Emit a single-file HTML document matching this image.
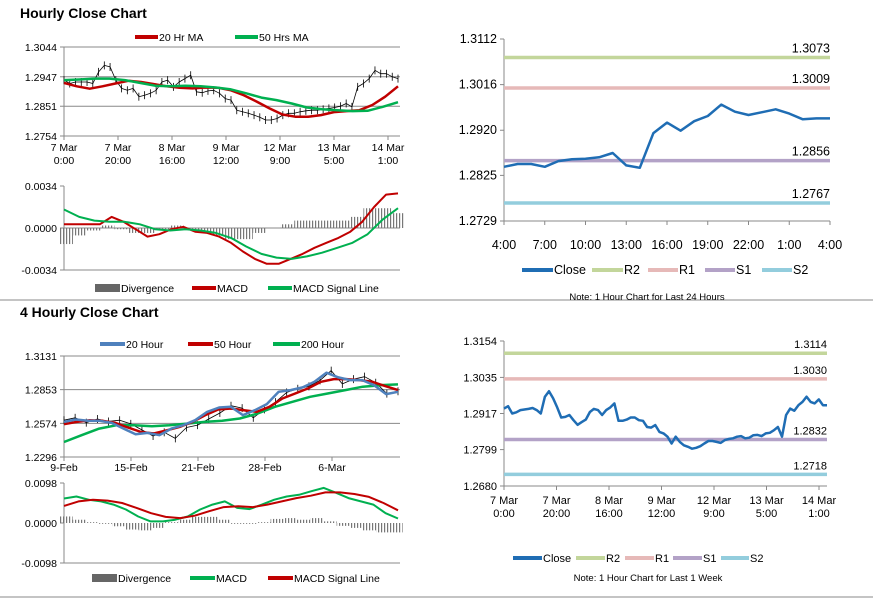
<!DOCTYPE html>
<html><head><meta charset="utf-8"><style>
body{margin:0;background:#fff;width:873px;height:601px;overflow:hidden;font-family:"Liberation Sans",Arial,sans-serif}
svg{display:block}
</style></head><body>
<svg id="s" width="873" height="601" viewBox="0 0 873 601" font-family="Liberation Sans, Arial, sans-serif">
<defs><pattern id="hatch" width="3" height="4" patternUnits="userSpaceOnUse"><rect x="0" y="0" width="1.2" height="4" fill="#777"/></pattern></defs>
<text x="20" y="18" font-size="14" font-weight="bold">Hourly Close Chart</text>
<text x="20" y="317" font-size="14" font-weight="bold">4 Hourly Close Chart</text>
<line x1="0" y1="300" x2="873" y2="300" stroke="#888" stroke-width="1"/>
<line x1="0" y1="597" x2="873" y2="597" stroke="#888" stroke-width="1"/>
</svg>
<script>
// ---- Hourly price (top-left)
const hTicks=["1.3044","1.2947","1.2851","1.2754"];
const hXLabels=[["7 Mar","0:00"],["7 Mar","20:00"],["8 Mar","16:00"],["9 Mar","12:00"],["12 Mar","9:00"],["13 Mar","5:00"],["14 Mar","1:00"]];
const hClose=[1.2936,1.2925,1.2930,1.2930,1.2930,1.2925,1.2963,1.2984,1.2979,1.2936,1.2909,1.2903,1.2909,1.2882,1.2887,1.2893,1.2903,1.2930,1.2936,1.2914,1.2930,1.2941,1.2952,1.2898,1.2895,1.2901,1.2903,1.2893,1.2876,1.2871,1.2838,1.2833,1.2828,1.2822,1.2815,1.2806,1.2806,1.2811,1.2822,1.2828,1.2828,1.2833,1.2836,1.2838,1.2838,1.2841,1.2844,1.2847,1.2851,1.2860,1.2849,1.2914,1.2925,1.2941,1.2968,1.2957,1.2957,1.2947,1.2941];
const hMA20=[1.2927,1.2916,1.2908,1.2916,1.2925,1.2934,1.2930,1.2923,1.2916,1.2911,1.2909,1.2912,1.2911,1.2903,1.2887,1.2866,1.2844,1.2824,1.2817,1.2817,1.2822,1.2832,1.2835,1.2838,1.2855,1.2882,1.2916];
const hMA50=[1.2936,1.2938,1.2941,1.2941,1.2936,1.2927,1.2918,1.2916,1.2918,1.2916,1.2912,1.2906,1.2893,1.2879,1.2871,1.2860,1.2847,1.2841,1.2838,1.2835,1.2836,1.2849,1.2864];
// ---- Hourly MACD
const hmTicks=["0.0034","0.0000","-0.0034"];
const hMACD=[0.0003,0.0003,0.0003,0.0003,0.0009,0.0005,-0.0001,-0.0007,-0.0005,-0.0001,0.0001,-0.0003,-0.0004,-0.0007,-0.0012,-0.0019,-0.0025,-0.0029,-0.0029,-0.0025,-0.0021,-0.0016,-0.0012,-0.0008,-0.0003,0.0005,0.0017,0.0027,0.0028];
const hSignal=[0.0015,0.0009,0.0006,0.0005,0.0005,0.0003,-0.0001,-0.0002,-0.0001,-0.0002,-0.0004,-0.0008,-0.0015,-0.0021,-0.0024,-0.0025,-0.0023,-0.0020,-0.0016,-0.0012,-0.0005,0.0007,0.0016];
const hDiv=[-0.0013,-0.0006,-0.0002,0.0002,-0.0001,-0.0004,-0.0004,-0.0001,0.0002,-0.0001,-0.0004,-0.0006,-0.0009,-0.0009,-0.0004,0.0000,0.0003,0.0006,0.0006,0.0006,0.0006,0.0009,0.0016,0.0016,0.0012];
// ---- 24h chart (top-right)
const dTicks=["1.3112","1.3016","1.2920","1.2825","1.2729"];
const dXLabels=["4:00","7:00","10:00","13:00","16:00","19:00","22:00","1:00","4:00"];
const dClose=[1.2843,1.2849,1.2849,1.2843,1.2855,1.2859,1.2860,1.2863,1.2872,1.2846,1.2841,1.2914,1.2936,1.2919,1.2939,1.2950,1.2974,1.2959,1.2952,1.2958,1.2964,1.2955,1.2943,1.2945,1.2945];
const dLevels=[1.3073,1.3009,1.2856,1.2767];
const levelNames=["R2","R1","S1","S2"];
// ---- week chart (bottom-right)
const wTicks=["1.3154","1.3035","1.2917","1.2799","1.2680"];
const wXLabels=hXLabels;
const wClose=[1.2933,1.2941,1.2917,1.2921,1.2928,1.2930,1.2932,1.2935,1.2928,1.2917,1.2972,1.2990,1.2967,1.2937,1.2904,1.2906,1.2912,1.2895,1.2880,1.2889,1.2897,1.2922,1.2932,1.2928,1.2912,1.2928,1.2937,1.2950,1.2893,1.2893,1.2897,1.2904,1.2904,1.2895,1.2893,1.2873,1.2871,1.2879,1.2857,1.2852,1.2841,1.2819,1.2841,1.2824,1.2813,1.2808,1.2802,1.2805,1.2810,1.2819,1.2827,1.2827,1.2824,1.2821,1.2830,1.2834,1.2836,1.2841,1.2843,1.2836,1.2838,1.2846,1.2847,1.2843,1.2852,1.2854,1.2862,1.2873,1.2841,1.2912,1.2933,1.2926,1.2944,1.2955,1.2972,1.2955,1.2950,1.2963,1.2944,1.2944];
const wLevels=[1.3114,1.3030,1.2832,1.2718];
// ---- 4 hourly price (bottom-left)
const fTicks=["1.3131","1.2853","1.2574","1.2296"];
const fXLabels=["9-Feb","15-Feb","21-Feb","28-Feb","6-Mar"];
const f20=[1.2586,1.2606,1.2595,1.2595,1.2578,1.2531,1.2484,1.2495,1.2476,1.2531,1.2559,1.2600,1.2669,1.2705,1.2711,1.2642,1.2683,1.2733,1.2835,1.2849,1.2871,1.2918,1.2993,1.2954,1.2932,1.2932,1.2890,1.2816,1.2835];
const f50=[1.2567,1.2586,1.2600,1.2595,1.2578,1.2539,1.2503,1.2490,1.2517,1.2545,1.2586,1.2642,1.2689,1.2697,1.2683,1.2669,1.2711,1.2780,1.2821,1.2863,1.2918,1.2940,1.2940,1.2932,1.2918,1.2882,1.2849];
const f200=[1.2420,1.2476,1.2531,1.2559,1.2559,1.2550,1.2559,1.2572,1.2586,1.2595,1.2614,1.2655,1.2711,1.2752,1.2794,1.2821,1.2849,1.2877,1.2890,1.2896];
const fClose=[1.2600,1.2620,1.2580,1.2610,1.2590,1.2600,1.2570,1.2520,1.2470,1.2500,1.2450,1.2540,1.2560,1.2610,1.2660,1.2720,1.2700,1.2620,1.2690,1.2750,1.2830,1.2860,1.2880,1.2930,1.3010,1.2900,1.2940,1.2960,1.2910,1.2820,1.2840];
// ---- 4 hourly MACD
const fmTicks=["0.0098","0.0000","-0.0098"];
const fMACD=[0.0060,0.0065,0.0057,0.0053,0.0045,0.0033,0.0016,0.0004,0.0004,0.0008,0.0016,0.0033,0.0045,0.0053,0.0037,0.0034,0.0045,0.0057,0.0065,0.0069,0.0078,0.0086,0.0074,0.0061,0.0053,0.0045,0.0024,0.0011];
const fSignal=[0.0042,0.0053,0.0057,0.0055,0.0049,0.0037,0.0024,0.0015,0.0012,0.0018,0.0029,0.0039,0.0041,0.0039,0.0045,0.0053,0.0061,0.0067,0.0075,0.0075,0.0071,0.0064,0.0049,0.0031];
const fDiv=[0.0016,0.0008,0.0002,-0.0002,-0.0008,-0.0016,-0.0018,-0.0012,0.0002,0.0008,0.0015,0.0015,0.0008,-0.0002,-0.0002,0.0002,0.0010,0.0012,0.0008,0.0012,0.0004,-0.0007,-0.0012,-0.0018,-0.0023,-0.0023];

const NS="http://www.w3.org/2000/svg";
const svg=document.getElementById('s');
function el(tag,attrs,parent){const e=document.createElementNS(NS,tag);for(const k in attrs)e.setAttribute(k,attrs[k]);(parent||svg).appendChild(e);return e;}
function scale(d0,d1,r0,r1){return v=>r0+(v-d0)/(d1-d0)*(r1-r0);}
function group(name){const g=el('g',{});return g;}
function series(g,name,vals,x0,x1,ys,color,w){
  const xs=scale(0,vals.length-1,x0,x1);
  const p=el('polyline',{points:vals.map((v,i)=>xs(i).toFixed(1)+','+ys(v).toFixed(1)).join(' '),fill:'none',stroke:color,'stroke-width':w,'stroke-linejoin':'round'},g);
  return p;
}
function yAxis(g,ticks,ys,x0,x1,lx,fs,grid){
  ticks.forEach(t=>{const y=ys(parseFloat(t));
    if(grid){const l=el('line',{x1:x0,x2:x1,y1:y,y2:y,stroke:'#888','stroke-width':1},g);}
    const tk=el('line',{x1:x0-4,x2:x0,y1:y,y2:y,stroke:'#888'},g);
    const tx=el('text',{x:lx,y:y+4,'font-size':fs,'text-anchor':'end',fill:'#000'},g);tx.textContent=t;});
}
function xLabels(g,labels,x0,x1,y,fs,tickY){
  const xs=scale(0,labels.length-1,x0,x1);
  labels.forEach((lb,i)=>{const x=xs(i);
    if(tickY!=null){const tk=el('line',{x1:x,x2:x,y1:tickY,y2:tickY+4,stroke:'#888'},g);}
    const arr=Array.isArray(lb)?lb:[lb];
    arr.forEach((s,j)=>{const t=el('text',{x:x,y:y+j*13,'font-size':fs,'text-anchor':'middle'},g);t.textContent=s;});});
}
function legend(g,items,y,fs){
  items.forEach(it=>{const lg=el('g',{},g);
    if(it.bar)el('rect',{x:it.x0,y:y-4,width:it.x1-it.x0,height:8,fill:'#666'},lg);
    else el('line',{x1:it.x0,x2:it.x1,y1:y,y2:y,stroke:it.c,'stroke-width':4},lg);
    const t=el('text',{x:it.x1+1,y:y+4,'font-size':fs},lg);t.textContent=it.t;});
}
function bars(g,vals,x0,x1,ys){
  const xs=scale(0,vals.length-1,x0,x1);const w=(x1-x0)/(vals.length-1);const z=ys(0);
  vals.forEach((v,i)=>{const y=ys(v);const r=el('rect',{x:xs(i)-w/2,y:Math.min(y,z),width:w,height:Math.abs(y-z),fill:'url(#hatch)'},g);
    });
}
function frameLeft(g,x,y0,y1){el('line',{x1:x,x2:x,y1:y0,y2:y1,stroke:'#888'},g);}

// Top-left price
(function(){const g=group('hourly-price-chart');const X0=64,X1=400;const ys=scale(1.2754,1.3044,136,47);
 frameLeft(g,X0,47,136);yAxis(g,hTicks,ys,X0,X1,57,10.5,true);
 xLabels(g,hXLabels,X0,388,151,10.5,136);
 const xs=scale(0,hClose.length-1,X0,398);
 hClose.forEach((v,i)=>{const y=ys(v);const l=el('line',{x1:xs(i),x2:xs(i),y1:y-4,y2:y+4,stroke:'#000','stroke-width':0.8},g);});
 series(g,'close-line',hClose,X0,398,ys,'#000',0.8);
 series(g,'ma20-line',hMA20,X0,398,ys,'#c00000',2.5);
 series(g,'ma50-line',hMA50,X0,398,ys,'#00b050',2.5);
 legend(g,[{x0:135,x1:158,c:'#c00000',t:'20 Hr MA'},{x0:235,x1:258,c:'#00b050',t:'50 Hrs MA'}],37,10.5);
})();
// Top-left MACD
(function(){const g=group('hourly-macd-chart');const X0=64,X1=400;const ys=scale(-0.0034,0.0034,270,186);
 frameLeft(g,X0,186,270);yAxis(g,hmTicks,ys,X0,X1,57,10.5,false);
 el('line',{x1:X0,x2:X1,y1:ys(0),y2:ys(0),stroke:'#888'},g);el('line',{x1:X0,x2:X1,y1:270,y2:270,stroke:'#888'},g);
 bars(g,hDiv,X0+2,398,ys);
 series(g,'macd-line',hMACD,X0,398,ys,'#c00000',2);
 series(g,'signal-line',hSignal,X0,398,ys,'#00b050',2);
 legend(g,[{x0:95,x1:120,bar:1,t:'Divergence'},{x0:192,x1:216,c:'#c00000',t:'MACD'},{x0:268,x1:292,c:'#00b050',t:'MACD Signal Line'}],288,10.5);
})();
// Right charts
function levelChart(name,ticks,xl,close,levels,X0,X1,Y0,Y1,d0,d1,xlY,fs,legY,legItems,note,noteX,noteY,twoLine){
 const g=group(name);const ys=scale(d0,d1,Y1,Y0);
 frameLeft(g,X0,Y0,Y1);el('line',{x1:X0,x2:X1,y1:Y1,y2:Y1,stroke:'#888'},g);
 yAxis(g,ticks,ys,X0,X1,X0-7,fs,false);
 xLabels(g,xl,X0,twoLine?819:X1,xlY,fs,Y1);
 const cols=['#c3d69b','#e6b9b8','#b3a2c7','#93cddd'];
 levels.forEach((v,i)=>{const y=ys(v);const l=el('line',{x1:X0,x2:X1,y1:y,y2:y,stroke:cols[i],'stroke-width':3.5},g);
   const t=el('text',{x:X1,y:y-5,'font-size':fs,'text-anchor':'end'},g);t.textContent=v.toFixed(4);});
 series(g,'close-line',close,X0,X1,ys,'#1f6db4',2.5);
 legend(g,legItems.map((it,i)=>({x0:it[0],x1:it[1],c:i==0?'#1f6db4':cols[i-1],t:i==0?'Close':levelNames[i-1]})),legY,fs);
 const t=el('text',{x:noteX,y:noteY,'font-size':9.5,'text-anchor':'middle'},g);t.textContent=note;
}
levelChart('daily-levels-chart',dTicks,dXLabels,dClose,dLevels,504,830,39,221,1.2729,1.3112,249,12.5,270,[[522,553],[592,623],[648,678],[705,735],[762,792]],'Note: 1 Hour Chart for Last 24 Hours',647,300,false);
levelChart('weekly-levels-chart',wTicks,wXLabels,wClose,wLevels,504,827,341,486,1.2680,1.3154,504,11,558,[[513,542],[576,605],[625,654],[673,702],[721,749]],'Note: 1 Hour Chart for  Last 1 Week',648,581,true);
// Bottom-left price
(function(){const g=group('4hourly-price-chart');const X0=64,X1=400;const ys=scale(1.2296,1.3131,457,356);
 frameLeft(g,X0,356,457);yAxis(g,fTicks,ys,X0,X1,57,10.5,true);
 xLabels(g,fXLabels,X0,332,471,10.5,457);
 const xs=scale(0,fClose.length-1,X0,398);
 fClose.forEach((v,i)=>{const y=ys(v);const l=el('line',{x1:xs(i),x2:xs(i),y1:y-4,y2:y+4,stroke:'#000','stroke-width':0.8},g);});
 series(g,'close-line',fClose,X0,398,ys,'#000',0.8);
 series(g,'ma200-line',f200,X0,398,ys,'#00b050',2.5);
 series(g,'ma50-line',f50,X0,398,ys,'#c00000',2.5);
 series(g,'ma20-line',f20,X0,398,ys,'#4f81bd',2.5);
 legend(g,[{x0:100,x1:125,c:'#4f81bd',t:'20 Hour'},{x0:188,x1:213,c:'#c00000',t:'50 Hour'},{x0:273,x1:300,c:'#00b050',t:'200 Hour'}],344,10.5);
})();
// Bottom-left MACD
(function(){const g=group('4hourly-macd-chart');const X0=64,X1=400;const ys=scale(-0.0098,0.0098,563,483);
 frameLeft(g,X0,483,563);yAxis(g,fmTicks,ys,X0,X1,57,10.5,false);
 el('line',{x1:X0,x2:X1,y1:563,y2:563,stroke:'#888'},g);
 bars(g,fDiv,X0+2,396,ys);
 series(g,'macd-line',fMACD,X0,398,ys,'#00b050',2);
 series(g,'signal-line',fSignal,X0,398,ys,'#c00000',2);
 legend(g,[{x0:92,x1:117,bar:1,t:'Divergence'},{x0:190,x1:215,c:'#00b050',t:'MACD'},{x0:268,x1:293,c:'#c00000',t:'MACD Signal Line'}],578,10.5);
})();
</script>
</body></html>
